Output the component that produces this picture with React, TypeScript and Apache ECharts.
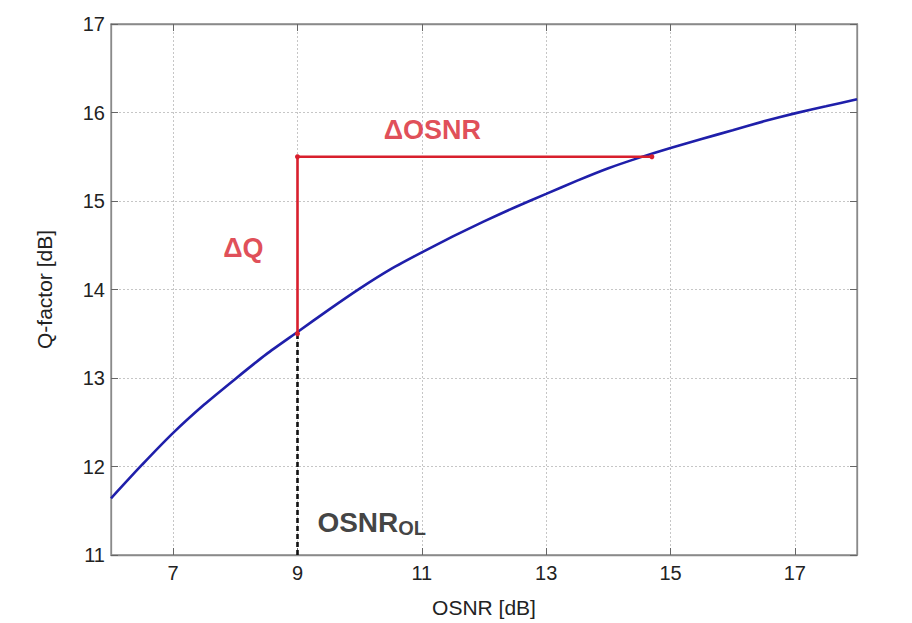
import React, { useEffect, useRef } from "react";
import * as echarts from "echarts";

// Q-factor versus OSNR characteristic
const osnrDb = [6, 6.5, 7, 7.5, 8, 8.5, 9, 9.5, 10, 10.5, 11, 11.5, 12, 12.5, 13, 13.5, 14, 14.5, 15, 15.5, 16, 16.5, 17, 17.5, 18];
const qFactorDb = [11.64, 12.02, 12.38, 12.7, 12.99, 13.27, 13.52, 13.77, 14.01, 14.23, 14.42, 14.6, 14.77, 14.93, 15.08, 15.23, 15.37, 15.49, 15.6, 15.7, 15.8, 15.9, 15.99, 16.07, 16.15];

// Operating point and the margins drawn around it
const osnrOl = 9;
const qAtOl = 13.5;
const qTarget = 15.5;
const osnrAtTarget = 14.7;

// Axis ticks
const xTicks = [7, 9, 11, 13, 15, 17];

const FONT = "'Liberation Sans', Arial, sans-serif";
const RED = "#d81f2d";
const BLUE = "#1f1faa";
const GRID = "#c6c6c6";
const AXIS = "#8a8a8a";

export default function App() {
  const ref = useRef<HTMLDivElement>(null);

  useEffect(() => {
    if (!ref.current) return;
    const chart = echarts.init(ref.current, undefined, { renderer: "svg" });

    const curve = osnrDb.map((x, i) => [x, qFactorDb[i]]);

    const baseX = {
      type: "value",
      min: 6,
      max: 18,
      axisLine: { show: true, lineStyle: { color: AXIS, width: 1.3 } },
      axisTick: { show: true, inside: true, length: 7, customValues: xTicks, lineStyle: { color: "#666" } },
    };
    const baseY = {
      type: "value",
      min: 11,
      max: 17,
      interval: 1,
      axisLine: { show: true, lineStyle: { color: AXIS, width: 1.3 } },
      axisTick: { show: true, inside: true, length: 7, lineStyle: { color: "#666" } },
    };

    chart.setOption({
      animation: false,
      backgroundColor: "#ffffff",
      grid: { left: 111, right: 55, top: 24, bottom: 66, show: true, borderColor: AXIS, borderWidth: 1.3 },
      xAxis: [
        {
          ...baseX,
          position: "bottom",
          name: "OSNR [dB]",
          nameLocation: "middle",
          nameGap: 42,
          nameTextStyle: { fontFamily: FONT, fontSize: 21, color: "#222" },
          axisLabel: { customValues: xTicks, margin: 8, fontFamily: FONT, fontSize: 20, color: "#222" },
          splitLine: { show: true, lineStyle: { color: GRID, type: [2, 2], width: 1 } },
        },
        {
          ...baseX,
          position: "top",
          axisLabel: { show: false },
          splitLine: { show: false },
        },
      ],
      yAxis: [
        {
          ...baseY,
          position: "left",
          name: "Q-factor [dB]",
          nameLocation: "middle",
          nameGap: 56,
          nameTextStyle: { fontFamily: FONT, fontSize: 21, color: "#222" },
          axisLabel: { margin: 6, fontFamily: FONT, fontSize: 20, color: "#222" },
          splitLine: { show: true, lineStyle: { color: GRID, type: [2, 2], width: 1 } },
        },
        {
          ...baseY,
          position: "right",
          axisLabel: { show: false },
          splitLine: { show: false },
        },
      ],
      series: [
        {
          name: "Q-factor",
          type: "line",
          data: curve,
          smooth: 0.2,
          showSymbol: false,
          lineStyle: { color: BLUE, width: 2.6 },
          z: 3,
        },
        {
          name: "OSNR_OL",
          type: "line",
          data: [[osnrOl, 11], [osnrOl, qAtOl]],
          showSymbol: false,
          lineStyle: { color: "#111", width: 2.6, type: [5, 3] },
          z: 2,
        },
        {
          name: "margins",
          type: "line",
          data: [[osnrOl, qAtOl], [osnrOl, qTarget], [osnrAtTarget, qTarget]],
          showSymbol: true,
          symbol: "circle",
          symbolSize: 5,
          itemStyle: { color: RED },
          lineStyle: { color: RED, width: 2.6 },
          z: 4,
        },
        {
          name: "labels",
          type: "scatter",
          symbolSize: 0,
          z: 5,
          data: [
            {
              value: [11.17, 15.8],
              label: { show: true, position: "inside", formatter: "\u0394OSNR", fontFamily: FONT, fontSize: 27, fontWeight: "bold", color: RED },
            },
            {
              value: [8.13, 14.47],
              label: { show: true, position: "inside", formatter: "\u0394Q", fontFamily: FONT, fontSize: 27, fontWeight: "bold", color: RED },
            },
            {
              value: [9.32, 11.36],
              label: {
                show: true,
                position: "right",
                distance: 0,
                formatter: "{a|OSNR}{b|OL}",
                rich: {
                  a: { fontFamily: FONT, fontSize: 28, fontWeight: "bold", color: "#111", lineHeight: 30, verticalAlign: "top" },
                  b: { fontFamily: FONT, fontSize: 20, fontWeight: "bold", color: "#111", lineHeight: 22, padding: [20, 0, 0, 0], verticalAlign: "bottom" },
                },
              },
            },
          ],
        },
      ],
    });

    return () => chart.dispose();
  }, []);

  return (
    <div
      ref={ref}
      style={{ position: "fixed", left: 0, top: 0, width: 912, height: 623, background: "#fff" }}
    />
  );
}
